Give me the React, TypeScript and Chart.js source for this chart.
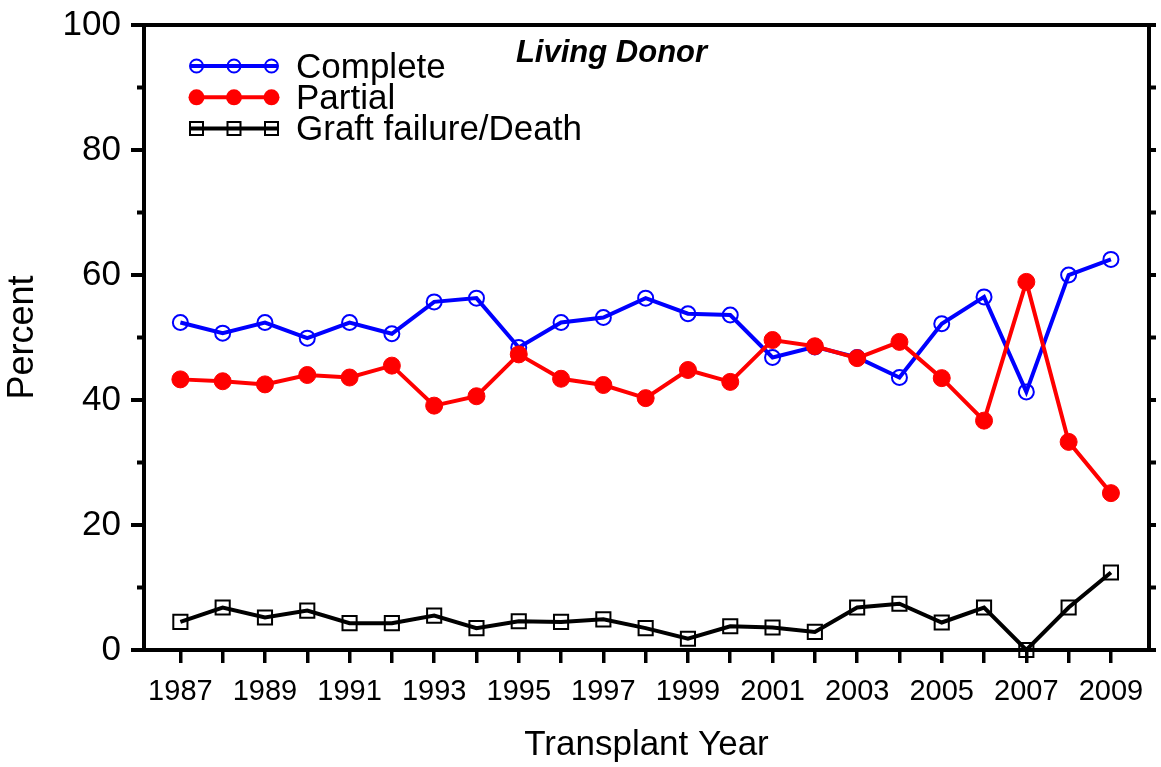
import React, { useEffect, useRef } from "react";
import { Chart, registerables } from "chart.js";

Chart.register(...registerables);

const years = [1987, 1988, 1989, 1990, 1991, 1992, 1993, 1994, 1995, 1996, 1997, 1998, 1999, 2000, 2001, 2002, 2003, 2004, 2005, 2006, 2007, 2008, 2009];
const complete = [52.4, 50.7, 52.4, 49.9, 52.4, 50.6, 55.7, 56.3, 48.4, 52.4, 53.2, 56.3, 53.8, 53.6, 46.8, 48.5, 46.8, 43.6, 52.2, 56.5, 41.3, 60.0, 62.5];
const partial = [43.3, 43.0, 42.5, 44.0, 43.6, 45.5, 39.1, 40.6, 47.3, 43.4, 42.4, 40.3, 44.8, 42.9, 49.6, 48.6, 46.7, 49.3, 43.5, 36.7, 58.9, 33.3, 25.1];
const graft = [4.5, 6.8, 5.2, 6.3, 4.3, 4.3, 5.5, 3.5, 4.6, 4.5, 4.9, 3.5, 1.8, 3.8, 3.6, 2.9, 6.8, 7.4, 4.4, 6.8, 0, 6.8, 12.4];
const seriesLabels = ["Complete", "Partial", "Graft failure/Death"];
const minorYTicks = [10, 30, 50, 70, 90];
const rightYTicks = [0, 10, 20, 30, 40, 50, 60, 70, 80, 90, 100];
const chartTitle = "Living Donor";

const FONT = "'Liberation Sans', Arial, sans-serif";

function drawMarker(ctx: CanvasRenderingContext2D, kind: string, x: number, y: number, r: number, color: string) {
  ctx.save();
  ctx.strokeStyle = color;
  ctx.fillStyle = color;
  ctx.lineWidth = 2;
  ctx.beginPath();
  if (kind === "circle") {
    ctx.arc(x, y, r, 0, Math.PI * 2);
    ctx.stroke();
  } else if (kind === "filled") {
    ctx.arc(x, y, r, 0, Math.PI * 2);
    ctx.fill();
  } else {
    ctx.rect(x - r, y - r, 2 * r, 2 * r);
    ctx.stroke();
  }
  ctx.restore();
}

const framePlugin = {
  id: "frame",
  beforeDatasetsDraw(chart: any) {
    const { ctx, chartArea: a, scales } = chart;
    const y = scales.y;
    ctx.save();
    ctx.strokeStyle = "#000";
    ctx.lineWidth = 4;
    ctx.beginPath();
    ctx.moveTo(a.left - 2, a.top);
    ctx.lineTo(a.right + 2, a.top);
    ctx.moveTo(a.right, a.top - 2);
    ctx.lineTo(a.right, a.bottom + 2);
    for (const v of minorYTicks) {
      const py = y.getPixelForValue(v);
      ctx.moveTo(a.left - 7, py);
      ctx.lineTo(a.left, py);
    }
    for (const v of rightYTicks) {
      const py = y.getPixelForValue(v);
      ctx.moveTo(a.right, py);
      ctx.lineTo(a.right + 7, py);
    }
    ctx.stroke();
    ctx.restore();
  },
};

const legendPlugin = {
  id: "customLegend",
  afterDraw(chart: any) {
    const { ctx } = chart;
    const entries = [
      { label: seriesLabels[0], color: "#0000ff", kind: "circle", r: 6.5 },
      { label: seriesLabels[1], color: "#ff0000", kind: "filled", r: 8 },
      { label: seriesLabels[2], color: "#000000", kind: "square", r: 6.5 },
    ];
    ctx.save();
    entries.forEach((e, i) => {
      const cy = 66 + i * 31.3;
      ctx.strokeStyle = e.color;
      ctx.lineWidth = 4;
      ctx.beginPath();
      ctx.moveTo(191, cy);
      ctx.lineTo(277, cy);
      ctx.stroke();
      for (const mx of [196.5, 234, 271.5]) drawMarker(ctx, e.kind, mx, cy, e.r, e.color);
      ctx.fillStyle = "#000";
      ctx.font = `35px ${FONT}`;
      ctx.textBaseline = "middle";
      ctx.textAlign = "left";
      ctx.fillText(e.label, 296, cy + 2);
    });
    ctx.font = `italic bold 31px ${FONT}`;
    ctx.textAlign = "center";
    ctx.textBaseline = "middle";
    ctx.fillText(chartTitle, 611.5, 53);
    ctx.restore();
  },
};

export default function App() {
  const ref = useRef<HTMLCanvasElement | null>(null);

  useEffect(() => {
    if (!ref.current) return;
    const toPts = (arr: number[]) => years.map((yr, i) => ({ x: yr, y: arr[i] }));
    const chart = new Chart(ref.current, {
      type: "line",
      data: {
        datasets: [
          {
            label: seriesLabels[2],
            data: toPts(graft),
            borderColor: "#000000",
            backgroundColor: "rgba(0,0,0,0)",
            borderWidth: 4,
            pointStyle: "rect",
            pointRadius: 10,
            pointBorderWidth: 2,
            pointBorderColor: "#000000",
            pointBackgroundColor: "rgba(0,0,0,0)",
            clip: false as any,
            order: 0,
          },
          {
            label: seriesLabels[1],
            data: toPts(partial),
            borderColor: "#ff0000",
            backgroundColor: "#ff0000",
            borderWidth: 4,
            pointStyle: "circle",
            pointRadius: 8.5,
            pointBorderWidth: 1,
            pointBorderColor: "#ff0000",
            pointBackgroundColor: "#ff0000",
            clip: false as any,
            order: 1,
          },
          {
            label: seriesLabels[0],
            data: toPts(complete),
            borderColor: "#0000ff",
            backgroundColor: "rgba(0,0,0,0)",
            borderWidth: 4,
            pointStyle: "circle",
            pointRadius: 7.5,
            pointBorderWidth: 2,
            pointBorderColor: "#0000ff",
            pointBackgroundColor: "rgba(0,0,0,0)",
            clip: false as any,
            order: 2,
          },
        ],
      },
      options: {
        responsive: false,
        animation: false,
        layout: { padding: { top: 25, right: 7, left: 0, bottom: 0 } },
        plugins: {
          legend: { display: false },
          tooltip: { enabled: false },
          title: { display: false },
        },
        elements: { line: { tension: 0 } },
        scales: {
          x: {
            type: "linear",
            min: 1986.14,
            max: 2009.9,
            afterFit: (s: any) => {
              s.height = 117;
              s.paddingLeft = 0;
              s.paddingRight = 0;
              s.paddingTop = 0;
              s.paddingBottom = 0;
            },
            border: { display: true, color: "#000", width: 4 },
            grid: { drawOnChartArea: false, drawTicks: true, tickLength: 13, color: "#000", lineWidth: 3.5 },
            ticks: {
              stepSize: 1,
              autoSkip: false,
              maxTicksLimit: 100,
              includeBounds: false,
              maxRotation: 0,
              minRotation: 0,
              padding: 12,
              color: "#000",
              font: { family: FONT, size: 29 },
              callback: (v: any) => (Number(v) % 2 === 1 ? String(v) : ""),
            },
            title: {
              display: true,
              text: "Transplant Year",
              color: "#000",
              font: { family: FONT, size: 35 },
              padding: { top: 0, bottom: 1 },
            },
          },
          y: {
            type: "linear",
            min: 0,
            max: 100,
            afterFit: (s: any) => {
              s.width = 144;
              s.paddingTop = 0;
              s.paddingBottom = 0;
              s.paddingLeft = 0;
              s.paddingRight = 0;
            },
            border: { display: true, color: "#000", width: 4 },
            grid: { drawOnChartArea: false, drawTicks: true, tickLength: 13, color: "#000", lineWidth: 4 },
            ticks: {
              stepSize: 20,
              padding: 10,
              color: "#000",
              font: { family: FONT, size: 35 },
            },
            title: {
              display: true,
              text: "Percent",
              color: "#000",
              font: { family: FONT, size: 36 },
              padding: { top: 1, bottom: 0 },
            },
          },
        },
      },
      plugins: [framePlugin, legendPlugin],
    });
    return () => chart.destroy();
  }, []);

  return (
    <div style={{ position: "absolute", left: 0, top: 0, width: 1161, height: 767, background: "#fff" }}>
      <canvas ref={ref} width={1161} height={767} style={{ width: 1161, height: 767 }} />
    </div>
  );
}
